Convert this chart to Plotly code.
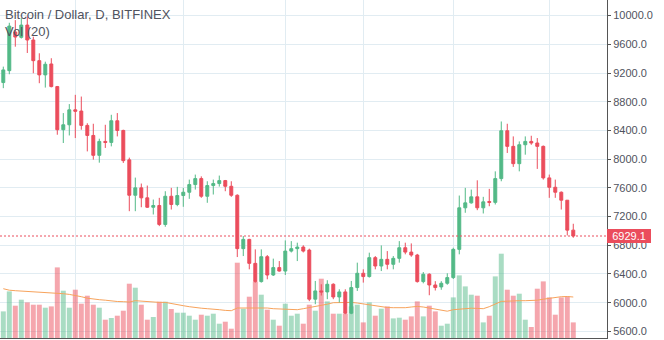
import plotly.graph_objects as go
import pandas as pd

# ---------------- data ----------------
dates = pd.date_range("2018-05-02", periods=96, freq="D")

open_ = [9067, 9233, 9771, 9697, 9868, 9660, 9372, 9174, 9326, 9011,
         8410, 8479, 8687, 8670, 8470, 8330, 8053, 8247, 8233, 8535,
         8400, 7990, 7497, 7600, 7461, 7330, 7354, 7090, 7483, 7368,
         7493, 7539, 7646, 7729, 7483, 7632, 7660, 7701, 7622, 7497,
         6753, 6882, 6548, 6294, 6641, 6386, 6489, 6441, 6719, 6753,
         6775, 6733, 6049, 6164, 6150, 6257, 6080, 6150, 5854, 6211,
         6410, 6364, 6628, 6511, 6604, 6535, 6618, 6766, 6705, 6664,
         6294, 6396, 6247, 6220, 6271, 6350, 6743, 7322, 7391, 7475,
         7322, 7410, 7398, 7729, 8396, 8178, 7937, 8201, 8247, 8225,
         8178, 7739, 7608, 7539, 7428, 7011]
high = [9289, 9900, 9937, 9965, 9990, 9706, 9475, 9358, 9406, 9020,
        8642, 8767, 8896, 8872, 8500, 8493, 8285, 8479, 8618, 8642,
        8410, 8021, 7743, 7660, 7632, 7437, 7461, 7553, 7600, 7614,
        7600, 7715, 7785, 7760, 7692, 7715, 7771, 7710, 7692, 7510,
        6928, 6890, 6743, 6743, 6664, 6614, 6580, 6868, 6858, 6836,
        6800, 6753, 6303, 6257, 6313, 6270, 6187, 6187, 6303, 6558,
        6465, 6697, 6650, 6798, 6719, 6650, 6858, 6836, 6826, 6680,
        6427, 6410, 6300, 6300, 6410, 6766, 7493, 7600, 7576, 7705,
        7475, 7586, 7830, 8525, 8493, 8317, 8247, 8317, 8326, 8294,
        8190, 7785, 7715, 7550, 7430, 7100]
low = [8989, 9183, 9567, 9680, 9479, 9197, 9058, 8997, 9000, 8340,
       8225, 8330, 8294, 8410, 8108, 7993, 7951, 8156, 8178, 8317,
       7947, 7275, 7275, 7330, 7320, 7229, 7067, 7058, 7298, 7344,
       7336, 7447, 7576, 7461, 7392, 7507, 7618, 7553, 7475, 6636,
       6650, 6465, 6280, 6280, 6326, 6372, 6433, 6386, 6700, 6580,
       6700, 6021, 5979, 6100, 6049, 6049, 6003, 5840, 5840, 6164,
       6280, 6350, 6465, 6441, 6465, 6465, 6558, 6674, 6640, 6280,
       6270, 6104, 6170, 6180, 6250, 6330, 6674, 7253, 7380, 7289,
       7243, 7344, 7368, 7692, 8086, 7892, 7830, 8062, 8200, 7864,
       7715, 7461, 7461, 7298, 6937, 6905]
close = [9243, 9854, 9701, 9868, 9660, 9372, 9174, 9322, 9011, 8410,
         8479, 8687, 8667, 8470, 8330, 8053, 8247, 8233, 8535, 8400,
         7979, 7497, 7600, 7461, 7330, 7354, 7090, 7483, 7368, 7493,
         7539, 7646, 7729, 7483, 7632, 7660, 7701, 7622, 7497, 6753,
         6882, 6548, 6294, 6641, 6386, 6489, 6441, 6719, 6753, 6775,
         6719, 6049, 6164, 6150, 6257, 6080, 6150, 5854, 6211, 6410,
         6364, 6628, 6511, 6604, 6535, 6618, 6766, 6705, 6664, 6294,
         6396, 6247, 6211, 6271, 6350, 6743, 7322, 7391, 7475, 7322,
         7405, 7398, 7729, 8396, 8178, 7937, 8201, 8247, 8225, 8178,
         7739, 7608, 7539, 7428, 7011, 6929.1]

# volume, thousand BTC (relative heights)
volume = [26.6, 46.6, 32.3, 38.3, 35.6, 33.3, 33.3, 30.3, 31.6, 70.6,
          47.3, 30.3, 48.3, 34.3, 42.3, 33.3, 30.3, 18.3, 20.0, 22.3,
          27.3, 54.3, 50.3, 33.3, 18.3, 21.0, 36.3, 36.3, 29.0, 25.3,
          25.3, 22.3, 18.3, 23.3, 22.3, 24.3, 14.3, 16.3, 9.3, 75.3,
          29.3, 41.3, 56.3, 43.3, 28.3, 18.3, 12.3, 34.3, 22.3, 24.3,
          14.3, 33.3, 27.3, 59.3, 36.6, 24.3, 24.3, 24.3, 31.6, 33.3,
          15.6, 35.6, 22.3, 29.3, 31.6, 19.6, 20.3, 18.3, 21.6, 36.6,
          21.6, 32.3, 26.6, 12.3, 14.3, 40.6, 62.6, 51.6, 43.3, 42.3,
          15.6, 22.3, 61.6, 84.3, 48.3, 42.3, 44.3, 18.3, 11.0, 49.3,
          56.6, 40.6, 23.3, 40.6, 41.6, 15.6]
volume_ma20 = [49.3, 47.8, 47.3, 47.0, 46.6, 46.3, 45.8, 45.5, 45.3, 45.0,
               44.3, 43.6, 42.8, 41.3, 39.8, 38.8, 38.3, 37.8, 37.0, 36.5,
               36.3, 36.0, 37.3, 36.8, 36.0, 35.6, 35.6, 35.6, 34.3, 33.3,
               32.3, 31.3, 30.3, 29.8, 29.3, 29.0, 28.3, 27.6, 27.3, 30.0,
               30.0, 30.0, 30.3, 30.6, 30.0, 29.3, 29.0, 28.8, 28.5, 28.3,
               29.3, 30.3, 31.8, 32.8, 33.8, 35.3, 35.6, 35.6, 35.6, 35.0,
               34.0, 33.0, 32.0, 31.0, 30.5, 30.3, 30.0, 30.3, 31.0, 31.6,
               31.0, 30.0, 28.8, 27.3, 26.8, 28.3, 28.8, 29.8, 29.8, 29.6,
               29.3, 31.3, 33.8, 36.6, 36.8, 37.3, 37.3, 37.3, 37.3, 37.8,
               38.8, 39.8, 40.3, 41.3, 41.5, 41.0]

grid_dates = ["2018-05-14", "2018-06-01", "2018-06-18",
              "2018-07-01", "2018-07-16", "2018-08-01"]
price_ticks = [5600, 6000, 6400, 6800, 7200, 7600, 8000, 8400, 8800, 9200, 9600, 10000]
price_ticktext = ["%.1f" % v for v in price_ticks]
last_price = 6929.1
title_text = "Bitcoin / Dollar, D, BITFINEX"
vol_text = "Vol (20)"

# ---------------- styling ----------------
UP = "#53b987"
DOWN = "#eb4d5c"
UP_VOL = "rgba(83,185,135,0.5)"
DOWN_VOL = "rgba(235,77,92,0.5)"
GRID = "#e1ecf2"
AXIS = "#555555"
TEXT = "#50535e"
FONT = "Liberation Sans, Arial, sans-serif"

vol_colors = [UP_VOL if c >= o else DOWN_VOL for o, c in zip(open_, close)]

fig = go.Figure()

fig.add_trace(go.Bar(
    x=dates, y=volume, marker=dict(color=vol_colors, line=dict(width=0)),
    width=0.83 * 86400000, yaxis="y", showlegend=False, hoverinfo="skip"))

fig.add_trace(go.Scatter(
    x=dates, y=volume_ma20, mode="lines", yaxis="y",
    line=dict(color="#f7a35c", width=1), showlegend=False, hoverinfo="skip"))

fig.add_trace(go.Candlestick(
    x=dates, open=open_, high=high, low=low, close=close, yaxis="y2",
    increasing=dict(line=dict(color=UP, width=1), fillcolor=UP),
    decreasing=dict(line=dict(color=DOWN, width=1), fillcolor=DOWN),
    whiskerwidth=0, showlegend=False))

fig.update_layout(
    width=664, height=340,
    margin=dict(l=0, r=57, t=0, b=2, pad=0),
    paper_bgcolor="white", plot_bgcolor="white",
    showlegend=False,
    boxgap=0.3,
    font=dict(family=FONT, size=11, color=TEXT),
    xaxis=dict(
        type="date", range=["2018-05-01 10:48", "2018-08-10 14:53"],
        tickvals=grid_dates, showticklabels=False, ticks="",
        showgrid=True, gridcolor=GRID, gridwidth=1,
        showline=True, linecolor=AXIS, linewidth=1,
        zeroline=False, rangeslider=dict(visible=False), fixedrange=True),
    yaxis=dict(range=[0, 338], visible=False, showgrid=False, fixedrange=True),
    yaxis2=dict(
        overlaying="y", side="right", range=[5508.2, 10217.3],
        tickvals=price_ticks, ticktext=price_ticktext,
        showgrid=True, gridcolor=GRID, gridwidth=1,
        showline=True, linecolor=AXIS, linewidth=1,
        ticks="outside", ticklen=3, tickcolor=AXIS,
        tickfont=dict(family=FONT, size=11, color=TEXT),
        zeroline=False, automargin=False, fixedrange=True),
    shapes=[dict(type="line", xref="paper", x0=0, x1=1, yref="y2",
                 y0=last_price, y1=last_price,
                 line=dict(color=DOWN, width=1, dash="2px,2px"))],
    annotations=[
        dict(xref="paper", yref="y2", x=1, y=last_price, xanchor="left",
             yanchor="middle", text="%.1f" % last_price, showarrow=False,
             bgcolor=DOWN, font=dict(family=FONT, size=11, color="white"),
             width=44, height=14, align="center", borderpad=0, borderwidth=0),
        dict(xref="paper", yref="paper", x=0, y=1, xanchor="left", yanchor="top",
             xshift=5, yshift=-7, text=title_text, showarrow=False,
             font=dict(family=FONT, size=13, color=TEXT), borderpad=0, borderwidth=0),
        dict(xref="paper", yref="paper", x=0, y=1, xanchor="left", yanchor="top",
             xshift=5, yshift=-24, text=vol_text, showarrow=False,
             font=dict(family=FONT, size=13, color=TEXT), borderpad=0, borderwidth=0),
    ],
)

fig.write_html("out.html")
